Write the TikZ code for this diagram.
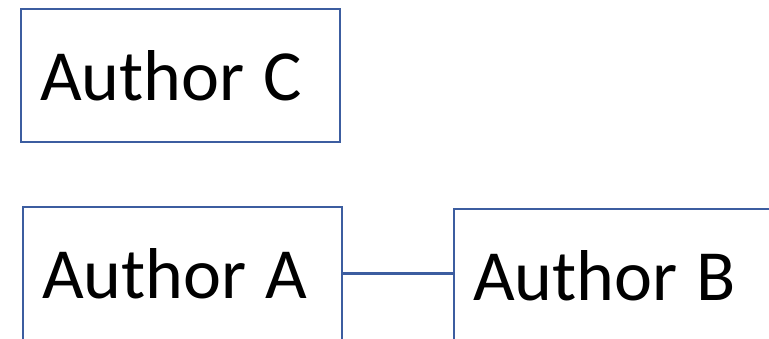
\documentclass[tikz,border=0pt]{standalone}
\usepackage{fontspec}
\setmainfont{Carlito}
\definecolor{boxblue}{HTML}{3C5DA0}
% word spacing for the box labels
\newcommand{\tightlabel}[1]{\spaceskip=0.26em\relax #1}
\begin{document}
\begin{tikzpicture}[x=1pt,y=-1pt,
  authorbox/.style={draw=boxblue, line width=2.2pt, rectangle,
    font=\fontsize{72}{78}\selectfont, inner xsep=19pt, inner ysep=0pt,
    text height=49pt, text depth=0pt, minimum height=133pt},
  link/.style={draw=boxblue, line width=2.2pt}]
  \useasboundingbox (0,0) rectangle (769,339);
  \node[authorbox, text width=281pt, anchor=north west] (C) at (20,8) {\tightlabel{Author C}};
  \node[authorbox, text width=281pt, anchor=north west] (A) at (22,206) {\tightlabel{Author A}};
  \node[authorbox, text width=300pt, anchor=north west] (B) at (453,208) {\tightlabel{Author B}};
  \draw[link] (A.east) -- (A.east -| B.west);
\end{tikzpicture}
\end{document}
